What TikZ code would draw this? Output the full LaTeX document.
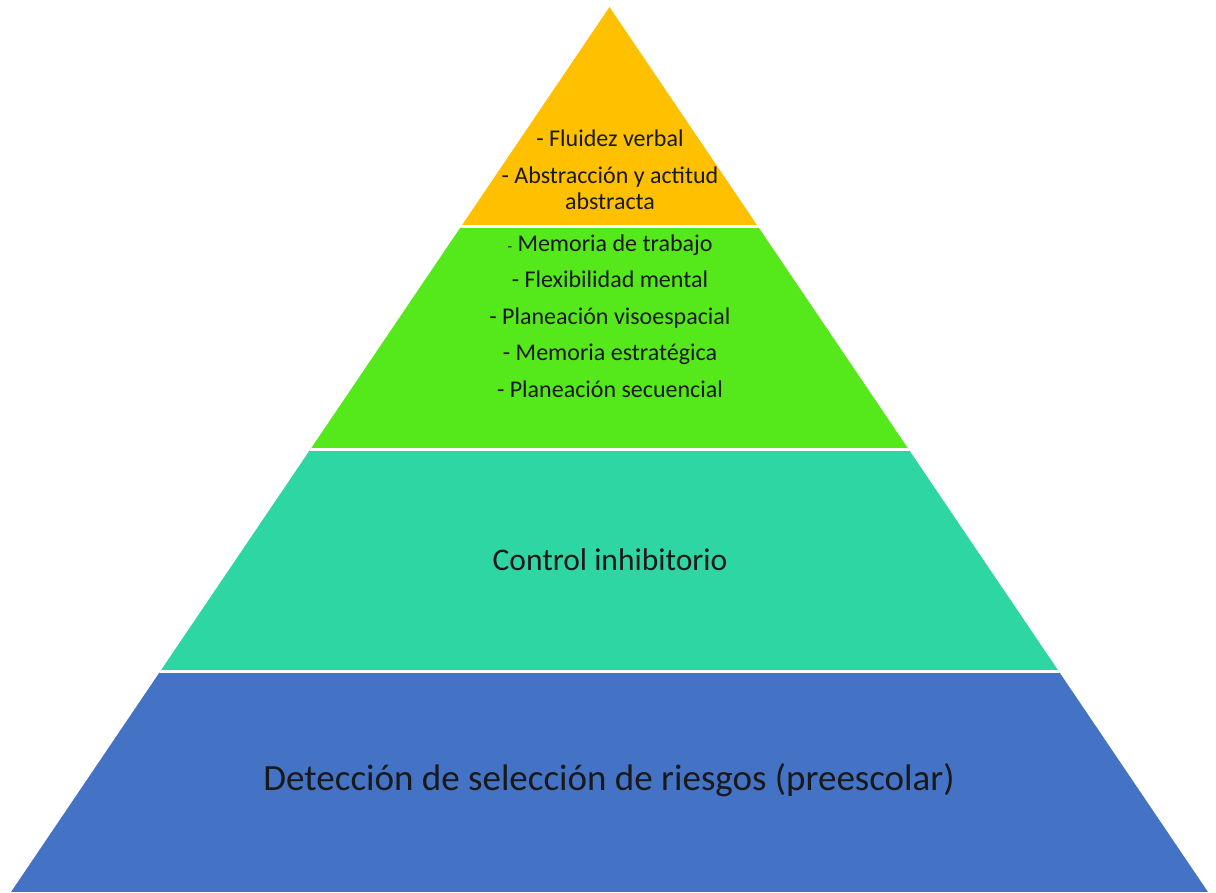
\documentclass[tikz,border=0pt]{standalone}
\usepackage{fontspec}
\setmainfont{Carlito}
\definecolor{layerA}{HTML}{FFC000}
\definecolor{layerB}{HTML}{55E81A}
\definecolor{layerC}{HTML}{2ED6A3}
\definecolor{layerD}{HTML}{4472C4}
\begin{document}
\begin{tikzpicture}[x=1pt,y=-1pt,
    lbl/.style={align=center, text=black!90, inner sep=0pt}]
    \useasboundingbox (0,0) rectangle (1216,892);
    \coordinate (apex) at (609.5,7);
    \coordinate (bl) at (11,892);
    \coordinate (br) at (1208,892);
    \begin{scope}
      \clip (apex) -- (bl) -- (br) -- cycle;
      \foreach \t/\b/\c in {0/226/layerA,226/449/layerB,449/671.5/layerC,671.5/892/layerD}
        {\fill[\c] (0,\t) rectangle (1216,\b);}
      \foreach \y in {226,449,671.5} {\draw[white,line width=3pt] (0,\y) -- (1216,\y);}
    \end{scope}
    \node[lbl,font=\fontsize{24}{26}\selectfont] (top) at (610,170)
      {- Fluidez verbal\\[11pt] - Abstracción y actitud\\ abstracta};
    \node[lbl,font=\fontsize{24}{36.5}\selectfont] (mid) at (610,316)
      {{\fontsize{15}{36.5}\selectfont-} Memoria de trabajo\\ - Flexibilidad mental\\ - Planeación visoespacial\\ - Memoria estratégica\\ - Planeación secuencial};
    \node[lbl,font=\fontsize{31.5}{36}\selectfont] (ctrl) at (610,560) {Control inhibitorio};
    \node[lbl,font=\fontsize{37}{44}\selectfont] (base) at (609,780) {Detección de selección de riesgos (preescolar)};
  \end{tikzpicture}
\end{document}
